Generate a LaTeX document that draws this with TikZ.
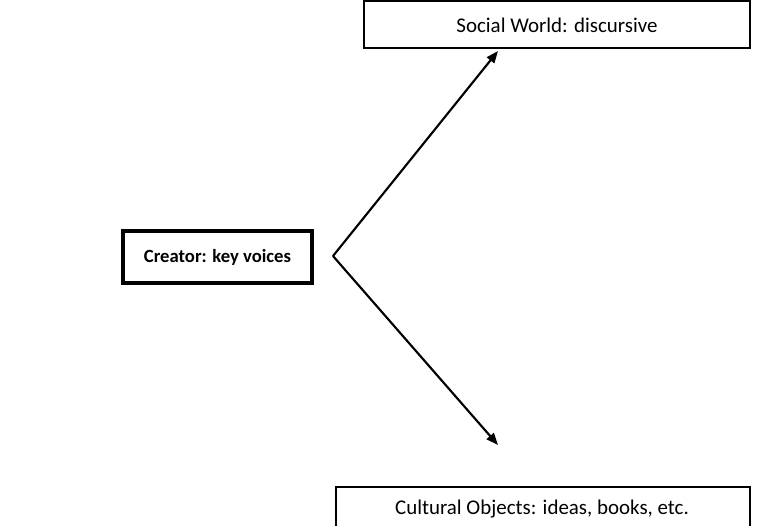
\documentclass[tikz,border=0pt]{standalone}
\usepackage{fontspec}
\setmainfont{Carlito}
\usetikzlibrary{arrows.meta}
\begin{document}
\begin{tikzpicture}[x=0.75pt,y=-0.75pt,
  thinbox/.style={draw=black,line width=1.1pt,inner sep=0pt},
  thickbox/.style={draw=black,line width=2.4pt,inner sep=0pt},
  thintext/.style={inner sep=0pt,font=\fontsize{15.7}{18}\selectfont},
  boldtext/.style={inner sep=0pt,font=\bfseries\fontsize{14}{16}\selectfont},
  conn/.style={line width=1.6pt,-{Triangle[length=9pt,width=7pt]}}]
\clip (0,0) rectangle (784,525);
\useasboundingbox (0,0) rectangle (784,525);
\node[thickbox,minimum width=189*0.75pt,minimum height=52*0.75pt] (creator) at (217.5,257) {};
\node[boldtext] (creatorlabel) at (creator.center) {Creator: key voices};
\node[thinbox,minimum width=386*0.75pt,minimum height=47*0.75pt] (social) at (557,24.5) {};
\node[thintext] (sociallabel) at (557,25) {Social World: discursive};
\node[thinbox,minimum width=414*0.75pt,minimum height=60*0.75pt] (cultural) at (543,517) {};
\node[thintext] (culturallabel) at (542,509) {Cultural Objects: ideas, books, etc.};
\coordinate (apex) at (333,256);
\coordinate (tipS) at (498,51);
\coordinate (tipC) at (498,445);
\draw[conn] (apex) -- (tipS);
\draw[conn] (apex) -- (tipC);
\end{tikzpicture}
\end{document}
